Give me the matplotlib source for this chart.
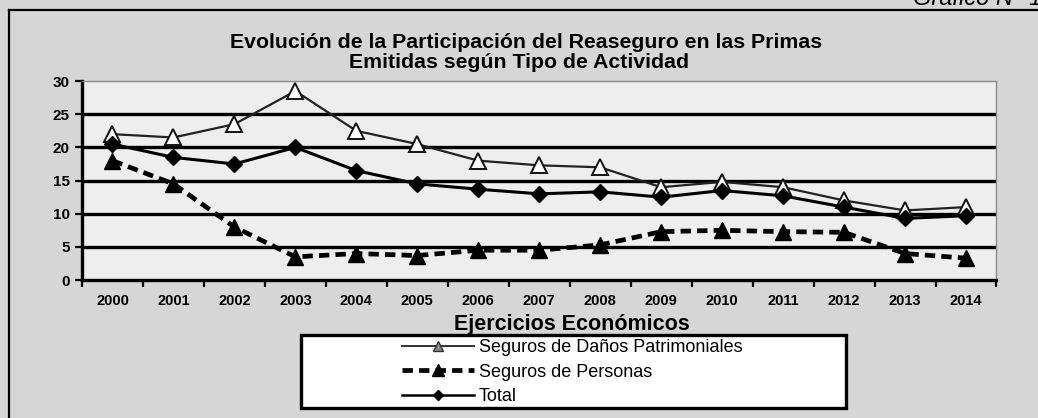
import matplotlib.pyplot as plt
from matplotlib.lines import Line2D
from matplotlib.patches import Rectangle

plt.rcParams['font.family'] = ['Liberation Sans', 'DejaVu Sans']

# data
years = ['2000', '2001', '2002', '2003', '2004', '2005', '2006', '2007',
         '2008', '2009', '2010', '2011', '2012', '2013', '2014']
danos = [22.0, 21.5, 23.5, 28.5, 22.5, 20.5, 18.0, 17.3, 17.0, 14.0, 14.8, 14.0, 12.0, 10.5, 11.0]
personas = [18.0, 14.5, 8.0, 3.5, 4.0, 3.7, 4.5, 4.5, 5.3, 7.3, 7.5, 7.3, 7.2, 4.0, 3.3]
total = [20.5, 18.5, 17.5, 20.0, 16.5, 14.5, 13.7, 13.0, 13.3, 12.5, 13.5, 12.7, 11.0, 9.3, 9.7]
labels = ['Seguros de Daños Patrimoniales', 'Seguros de Personas', 'Total']
yticks = [0, 5, 10, 15, 20, 25, 30]

fig = plt.figure(figsize=(10.38, 4.18), dpi=100)
fig.patch.set_facecolor('#d6d6d6')

ax = fig.add_axes([0.079, 0.330, 0.881, 0.476])
ax.set_facecolor('#eeeeee')
x = list(range(len(years)))

# gridlines
for v in yticks[1:-1]:
    ax.axhline(v, color='black', lw=2.4, zorder=1)

ax.plot(x, danos, color='#222222', lw=1.6, marker='^', ms=11.5,
        mfc='white', mec='#111111', mew=1.4, zorder=3)
ax.plot(x, personas, color='black', lw=3.4, ls=(0, (2.2, 1.3)), marker='^',
        ms=11, mfc='black', mec='black', zorder=4)
ax.plot(x, total, color='black', lw=2.2, marker='D', ms=8.5,
        mfc='black', mec='black', zorder=5)

ax.set_xlim(-0.5, len(years) - 0.5)
ax.set_ylim(0, 30)
ax.set_yticks(yticks)
ax.set_yticklabels([str(v) for v in yticks], fontsize=11, fontweight='bold')
ax.set_xticks([i - 0.5 for i in range(len(years) + 1)])
ax.set_xticklabels([])
ax.set_xticks(x, minor=True)
ax.set_xticklabels(years, minor=True, fontsize=10.5, fontweight='bold')
ax.tick_params(axis='x', which='major', length=5, width=1.6, direction='out')
ax.tick_params(axis='x', which='minor', length=0, pad=10)
ax.tick_params(axis='y', length=5, width=1.6, direction='out', pad=4)

for side in ['left', 'bottom']:
    ax.spines[side].set_linewidth(2.4)
    ax.spines[side].set_color('black')
for side in ['top', 'right']:
    ax.spines[side].set_linewidth(1.0)
    ax.spines[side].set_color('#8c8c8c')

fig.text(0.551, 1 - 330 / 418, 'Ejercicios Económicos', ha='center', va='baseline',
         fontsize=15.5, fontweight='bold')

fig.text(0.507, 1 - 48 / 418, 'Evolución de la Participación del Reaseguro en las Primas',
         ha='center', va='baseline', fontsize=15.3, fontweight='bold')
fig.text(0.500, 1 - 68 / 418, 'Emitidas según Tipo de Actividad',
         ha='center', va='baseline', fontsize=15.3, fontweight='bold')

fig.text(0.880, 1 - 5 / 418, 'Gráfico N° 1', fontsize=17, style='italic', va='baseline')

# outer frame
fig.add_artist(Line2D([0.0087, 1.0], [0.976, 0.976], color='black', lw=1.6))
fig.add_artist(Line2D([0.0087, 0.0087], [0.0, 0.976], color='black', lw=1.6))

# legend box
fig.add_artist(Rectangle((0.290, 0.024), 0.525, 0.175, transform=fig.transFigure,
                         facecolor='white', edgecolor='black', lw=2.4, zorder=2))
handles = [
    Line2D([], [], color='#333333', lw=1.4, marker='^', ms=7, mfc='#888888', mec='#333333'),
    Line2D([], [], color='black', lw=3.4, ls=(0, (2.2, 1.3)), marker='^', ms=8, mfc='black'),
    Line2D([], [], color='black', lw=1.8, marker='D', ms=5, mfc='black'),
]
leg = fig.legend(handles, labels, loc='upper left', bbox_to_anchor=(0.3873, 1 - 339 / 418),
                 frameon=False, fontsize=13, handlelength=4.0, handletextpad=0.25,
                 labelspacing=0.42, borderaxespad=0, borderpad=0)
leg.set_zorder(3)

fig.savefig('out.png', dpi=100, facecolor=fig.get_facecolor())
